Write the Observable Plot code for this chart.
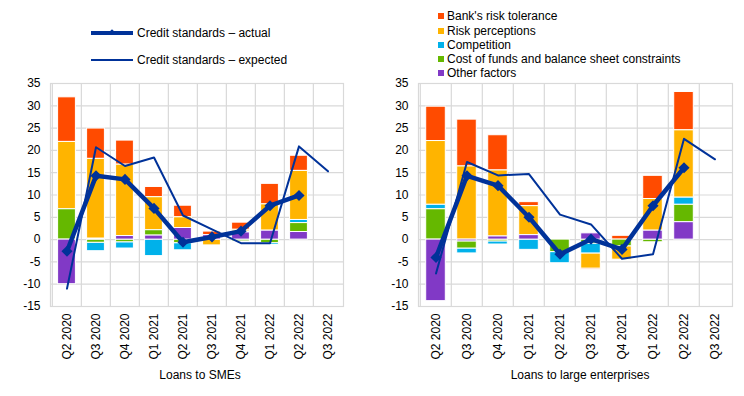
<!DOCTYPE html>
<html><head><meta charset="utf-8">
<script src="https://cdn.jsdelivr.net/npm/d3@7"></script>
<script src="https://cdn.jsdelivr.net/npm/@observablehq/plot@0.6"></script>
<style>
body{margin:0;background:#fff;font-family:"Liberation Sans",Arial,sans-serif;}
#wrap{position:relative;width:744px;height:396px;overflow:hidden;}
.abs{position:absolute;}
.lg{position:absolute;font-size:12px;line-height:14px;color:#000;white-space:nowrap;}
.title{position:absolute;font-size:12px;color:#000;white-space:nowrap;transform:translateX(-50%);}
</style></head><body><div id="wrap"></div>
<script>
const quarters = ["Q2 2020","Q3 2020","Q4 2020","Q1 2021","Q2 2021","Q3 2021","Q4 2021","Q1 2022","Q2 2022","Q3 2022"];
const factors = ["Bank's risk tolerance","Risk perceptions","Competition","Cost of funds and balance sheet constraints","Other factors"];
const factorColors = ["#FF4B00","#FFB400","#00B1EA","#65B800","#8139C6"];
const stackOrder = ["Other factors","Cost of funds and balance sheet constraints","Competition","Risk perceptions","Bank's risk tolerance"];
const yTicks = [-15,-10,-5,0,5,10,15,20,25,30,35];

// Loans to SMEs
const smeRiskTolerance = [10.0, 6.8, 5.4, 2.3, 2.6, 0.8, 1.6, 4.6, 3.4, null];
const smeRiskPerceptions = [15.1, 17.9, 16.0, 7.4, 2.4, -1.3, 0.4, 5.9, 11.0, null];
const smeCompetition = [0, -1.9, -1.4, -3.7, -1.6, 0, 0.2, -0.4, 0.7, null];
const smeCostOfFunds = [6.8, -0.7, -0.6, 1.2, -0.8, 0, -0.4, -0.8, 2.0, null];
const smeOther = [-10.0, 0.2, 0.8, 0.9, 2.6, 1.0, 1.6, 2.0, 1.7, null];
const smeActual = [-2.6, 14.3, 13.5, 7.0, -0.6, 0.6, 1.9, 7.6, 9.9, null];
const smeExpected = [-11.0, 20.7, 16.5, 18.4, 5.4, 2.3, -0.8, -0.8, 20.9, 15.3];

// Loans to large enterprises
const leRiskTolerance = [7.7, 10.5, 7.9, 0.9, -0.2, -0.3, 0.85, 5.2, 8.6, null];
const leRiskPerceptions = [14.3, 16.4, 14.8, 6.5, 0, -3.4, -3.0, 7.1, 15.1, null];
const leCompetition = [1.0, -1.1, -0.7, -2.3, -2.5, -2.2, 0, 0, 1.6, null];
const leCostOfFunds = [6.8, -1.6, -0.4, 0, -2.8, -0.9, -1.5, -0.6, 3.9, null];
const leOther = [-13.8, -0.4, 0.7, 1.0, 0, 1.4, 0, 2.0, 3.9, null];
const leActual = [-4.0, 14.3, 12.1, 5.0, -3.3, 0.1, -2.2, 7.6, 16.1, null];
const leExpected = [-7.6, 17.4, 14.4, 14.7, 5.6, 3.4, -4.3, -3.3, 22.6, 18.0];

const lineColor = "#003299";
const gridColor = "#d9d9d9";

function buildRows(series) {
  const rows = [];
  factors.forEach((f, i) => {
    series[i].forEach((v, j) => {
      if (v !== null && v !== 0) rows.push({q: quarters[j], factor: f, v});
    });
  });
  return rows;
}
function lineRows(actual, expected) {
  return quarters.map((q, i) => ({q, actual: actual[i], expected: expected[i]}));
}

function panel(series, actual, expected, opts) {
  const rows = buildRows(series);
  const lines = lineRows(actual, expected);
  const plotW = opts.width - opts.marginLeft - opts.marginRight;
  const step = plotW / quarters.length;
  return Plot.plot({
    width: opts.width,
    height: 396,
    marginLeft: opts.marginLeft,
    marginRight: opts.marginRight,
    marginTop: 83,
    marginBottom: 90,
    style: {fontFamily: "'Liberation Sans', Arial, sans-serif", fontSize: "12px", color: "#000", background: "transparent"},
    x: {type: "band", domain: quarters, padding: 0},
    y: {domain: [-15, 35]},
    color: {domain: factors, range: factorColors},
    marks: [
      Plot.ruleY(yTicks, {stroke: gridColor, strokeWidth: 1.2}),
      Plot.ruleX(quarters, {x: d => d, dx: -step / 2, stroke: gridColor, strokeWidth: 1.2}),
      Plot.frame({stroke: gridColor, strokeWidth: 1.2}),
      Plot.barY(rows, {x: "q", y: "v", z: "factor", fill: "factor", order: stackOrder,
        stroke: "white", strokeWidth: 1, insetLeft: opts.inset, insetRight: opts.inset}),
      Plot.line(lines, {x: "q", y: "expected", stroke: lineColor, strokeWidth: 2}),
      Plot.line(lines, {x: "q", y: "actual", stroke: lineColor, strokeWidth: 4.5}),
      Plot.dot(lines.filter(d => d.actual !== null), {x: "q", y: "actual", symbol: "diamond2", r: 5, fill: lineColor, stroke: null}),
      Plot.axisY({ticks: yTicks, tickSize: 0, tickPadding: 10, tickFormat: d => String(d), label: null}),
      Plot.axisX({tickRotate: -90, tickSize: 0, tickPadding: 7, label: null})
    ]
  });
}

const wrap = document.getElementById("wrap");

const left = panel([smeRiskTolerance, smeRiskPerceptions, smeCompetition, smeCostOfFunds, smeOther], smeActual, smeExpected,
  {width: 372, marginLeft: 50, marginRight: 29, inset: 5.6});
left.style.position = "absolute"; left.style.left = "0px"; left.style.top = "0px";
wrap.appendChild(left);

const right = panel([leRiskTolerance, leRiskPerceptions, leCompetition, leCostOfFunds, leOther], leActual, leExpected,
  {width: 372, marginLeft: 46, marginRight: 12, inset: 5.7});
right.style.position = "absolute"; right.style.left = "372px"; right.style.top = "0px";
wrap.appendChild(right);

// titles
function addDiv(cls, text, left, top) {
  const d = document.createElement("div");
  d.className = cls; d.textContent = text;
  d.style.left = left + "px"; d.style.top = top + "px";
  wrap.appendChild(d); return d;
}
addDiv("title", "Loans to SMEs", 200, 368);
addDiv("title", "Loans to large enterprises", 580, 368);

// left legend (line samples)
const legendLines = [
  {label: "Credit standards \u2013 actual", w: 4.5, y: 33, marker: true},
  {label: "Credit standards \u2013 expected", w: 2, y: 59.5, marker: false}
];
legendLines.forEach(l => {
  const s = document.createElement("div");
  s.className = "abs";
  s.style.left = "91px"; s.style.width = "42px";
  s.style.top = (l.y - l.w / 2) + "px"; s.style.height = l.w + "px";
  s.style.background = lineColor;
  wrap.appendChild(s);
  if (l.marker) {
    const m = document.createElement("div");
    m.className = "abs";
    m.style.left = "110px"; m.style.top = (l.y - 3) + "px";
    m.style.width = "4px"; m.style.height = "4px";
    m.style.background = lineColor; m.style.transform = "rotate(45deg)";
    wrap.appendChild(m);
  }
  addDiv("lg", l.label, 137, l.y - 7);
});

// right legend (factor squares)
const legendRowsY = [16, 30.5, 44.5, 58.5, 72.5];
factors.forEach((f, i) => {
  const sq = document.createElement("div");
  sq.className = "abs";
  sq.style.left = "438px"; sq.style.top = (legendRowsY[i] - 3) + "px";
  sq.style.width = "6px"; sq.style.height = "6px";
  sq.style.background = factorColors[i];
  wrap.appendChild(sq);
  addDiv("lg", f, 447, legendRowsY[i] - 7);
});
</script></body></html>
